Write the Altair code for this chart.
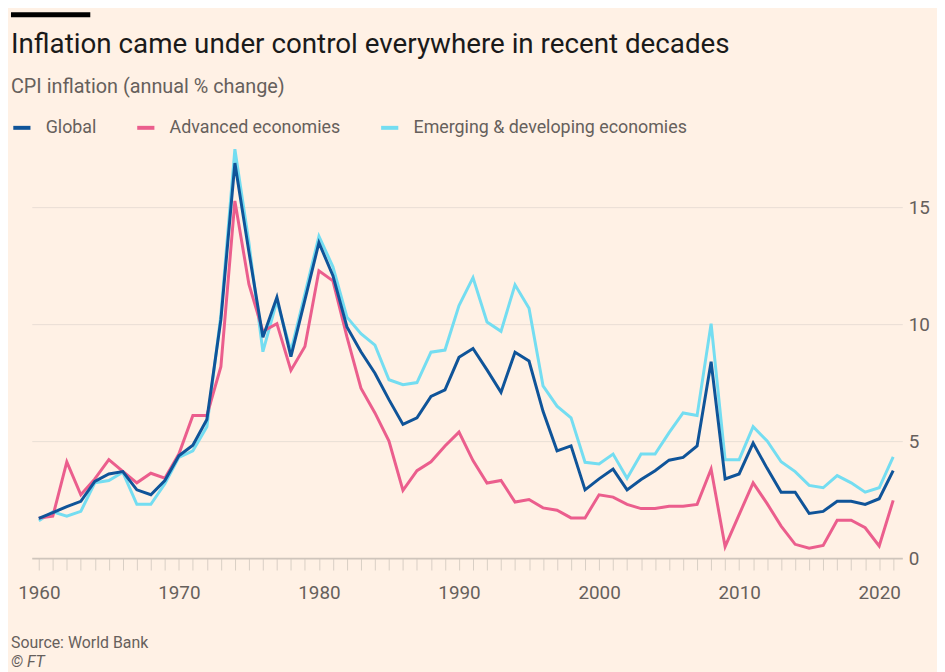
import altair as alt
import pandas as pd

years = list(range(1960, 2022))

global_cpi = [1.7, 1.95, 2.2, 2.43, 3.28, 3.6, 3.7, 2.92, 2.71, 3.32,
              4.38, 4.83, 5.93, 10.2, 16.9, 13.1, 9.45, 11.16, 8.62, 11.05,
              13.49, 12.08, 9.89, 8.83, 7.91, 6.78, 5.72, 6.0, 6.92, 7.2,
              8.59, 8.97, 8.05, 7.09, 8.81, 8.43, 6.28, 4.59, 4.8, 2.92,
              3.39, 3.81, 2.92, 3.36, 3.74, 4.19, 4.31, 4.8, 8.4, 3.39,
              3.6, 4.92, 3.84, 2.82, 2.82, 1.91, 2.0, 2.43, 2.43, 2.3,
              2.54, 3.74]

advanced_cpi = [1.71, 1.79, 4.12, 2.71, 3.39, 4.21, 3.71, 3.22, 3.63, 3.42,
                4.45, 6.1, 6.1, 8.19, 15.28, 11.72, 9.7, 10.03, 8.03, 9.05,
                12.29, 11.86, 9.46, 7.27, 6.21, 5.01, 2.9, 3.74, 4.12, 4.8,
                5.39, 4.17, 3.21, 3.32, 2.4, 2.51, 2.15, 2.05, 1.72, 1.72,
                2.71, 2.61, 2.3, 2.12, 2.12, 2.22, 2.22, 2.3, 3.81, 0.49,
                1.86, 3.22, 2.33, 1.37, 0.59, 0.42, 0.54, 1.62, 1.62, 1.3,
                0.52, 2.47]

emerging_cpi = [1.6, 1.98, 1.79, 2.0, 3.22, 3.32, 3.67, 2.3, 2.3, 3.18,
                4.31, 4.59, 5.62, 10.4, 17.49, 13.5, 8.83, 11.0, 8.85, 11.3,
                13.77, 12.46, 10.31, 9.6, 9.11, 7.63, 7.42, 7.51, 8.81, 8.9,
                10.8, 12.0, 10.1, 9.7, 11.69, 10.69, 7.37, 6.5, 6.0, 4.1,
                4.03, 4.45, 3.42, 4.45, 4.45, 5.37, 6.21, 6.1, 10.03, 4.21,
                4.21, 5.62, 5.01, 4.12, 3.7, 3.11, 3.01, 3.53, 3.22, 2.82,
                3.01, 4.33]

series_names = ["Global", "Advanced economies", "Emerging & developing economies"]
series_colors = ["#0F5499", "#EB5E8D", "#74DDF1"]
draw_order = ["Emerging & developing economies", "Advanced economies", "Global"]
y_ticks = [0, 5, 10, 15]

title_text = "Inflation came under control everywhere in recent decades"
subtitle_text = "CPI inflation (annual % change)"
source_text = ["Source: World Bank"]
credit_text = ["© FT"]

rows = []
for name, vals in zip(series_names, [global_cpi, advanced_cpi, emerging_cpi]):
    for yr, v in zip(years, vals):
        rows.append({"year": yr, "value": v, "series": name})
df = pd.DataFrame(rows)

FONT = "Roboto"
GREY = "#66605C"
W, H = 878, 415

x_enc = alt.X(
    "year:Q",
    scale=alt.Scale(domain=[1959.5, 2021.65], nice=False, zero=False),
    axis=alt.Axis(
        values=years, format="d", title=None, grid=False,
        labelExpr="datum.value % 10 == 0 ? datum.label : ''",
        labelOverlap=False, labelFontSize=19, labelColor=GREY, labelFont=FONT,
        labelPadding=14, tickSize=12, tickColor="#D9CEC4", tickWidth=1,
        domainColor="#CFC5BC", domainWidth=2,
    ),
)
y_enc = alt.Y(
    "value:Q",
    scale=alt.Scale(domain=[0, 17.6], nice=False),
    axis=alt.Axis(
        orient="right", values=y_ticks, title=None, domain=False, ticks=False,
        gridColor="#E9DED4", gridWidth=1, labelFontSize=19, labelColor=GREY,
        labelFont=FONT, labelPadding=6,
    ),
)
color_enc = alt.Color(
    "series:N",
    scale=alt.Scale(domain=series_names, range=series_colors),
    legend=alt.Legend(
        orient="none", legendX=-21, legendY=-30, direction="horizontal",
        title=None, symbolType="stroke", symbolStrokeWidth=4, symbolSize=300,
        labelFontSize=18, labelColor=GREY, labelFont=FONT, columnPadding=32,
        labelOffset=13, labelLimit=500,
    ),
)

base = alt.Chart(df)
line_layers = [
    base.transform_filter(alt.datum.series == s)
    .mark_line(strokeWidth=3, strokeJoin="miter")
    .encode(x=x_enc, y=y_enc, color=color_enc)
    for s in draw_order
]

bar = alt.Chart(pd.DataFrame({"a": [0]})).mark_rule(color="#000000", strokeWidth=5).encode(
    x=alt.value(-21), x2=alt.value(59), y=alt.value(-133)
)
source = alt.Chart(pd.DataFrame({"t": source_text})).mark_text(
    align="left", baseline="middle", fontSize=16, font=FONT, color=GREY
).encode(text="t:N", x=alt.value(-21), y=alt.value(H + 86))
credit = alt.Chart(pd.DataFrame({"t": credit_text})).mark_text(
    align="left", baseline="middle", fontSize=16, font=FONT, color=GREY, fontStyle="italic"
).encode(text="t:N", x=alt.value(-21), y=alt.value(H + 105))

chart = alt.layer(*line_layers, bar, source, credit).properties(
    width=W, height=H,
    title=alt.TitleParams(
        text=title_text, subtitle=subtitle_text, anchor="start", frame="group",
        dx=-21, offset=-85, font=FONT, fontSize=28, fontWeight="normal",
        color="#1A1A1A", subtitleFont=FONT, subtitleFontSize=20,
        subtitleColor=GREY, subtitlePadding=18,
    ),
    autosize=alt.AutoSizeParams(type="none"),
    padding={"left": 24, "top": 137, "right": 35, "bottom": 112},
).configure(background="#FFF1E5").configure_view(stroke=None)

chart.save("out.html", embed_options={"renderer": "svg", "actions": False})
